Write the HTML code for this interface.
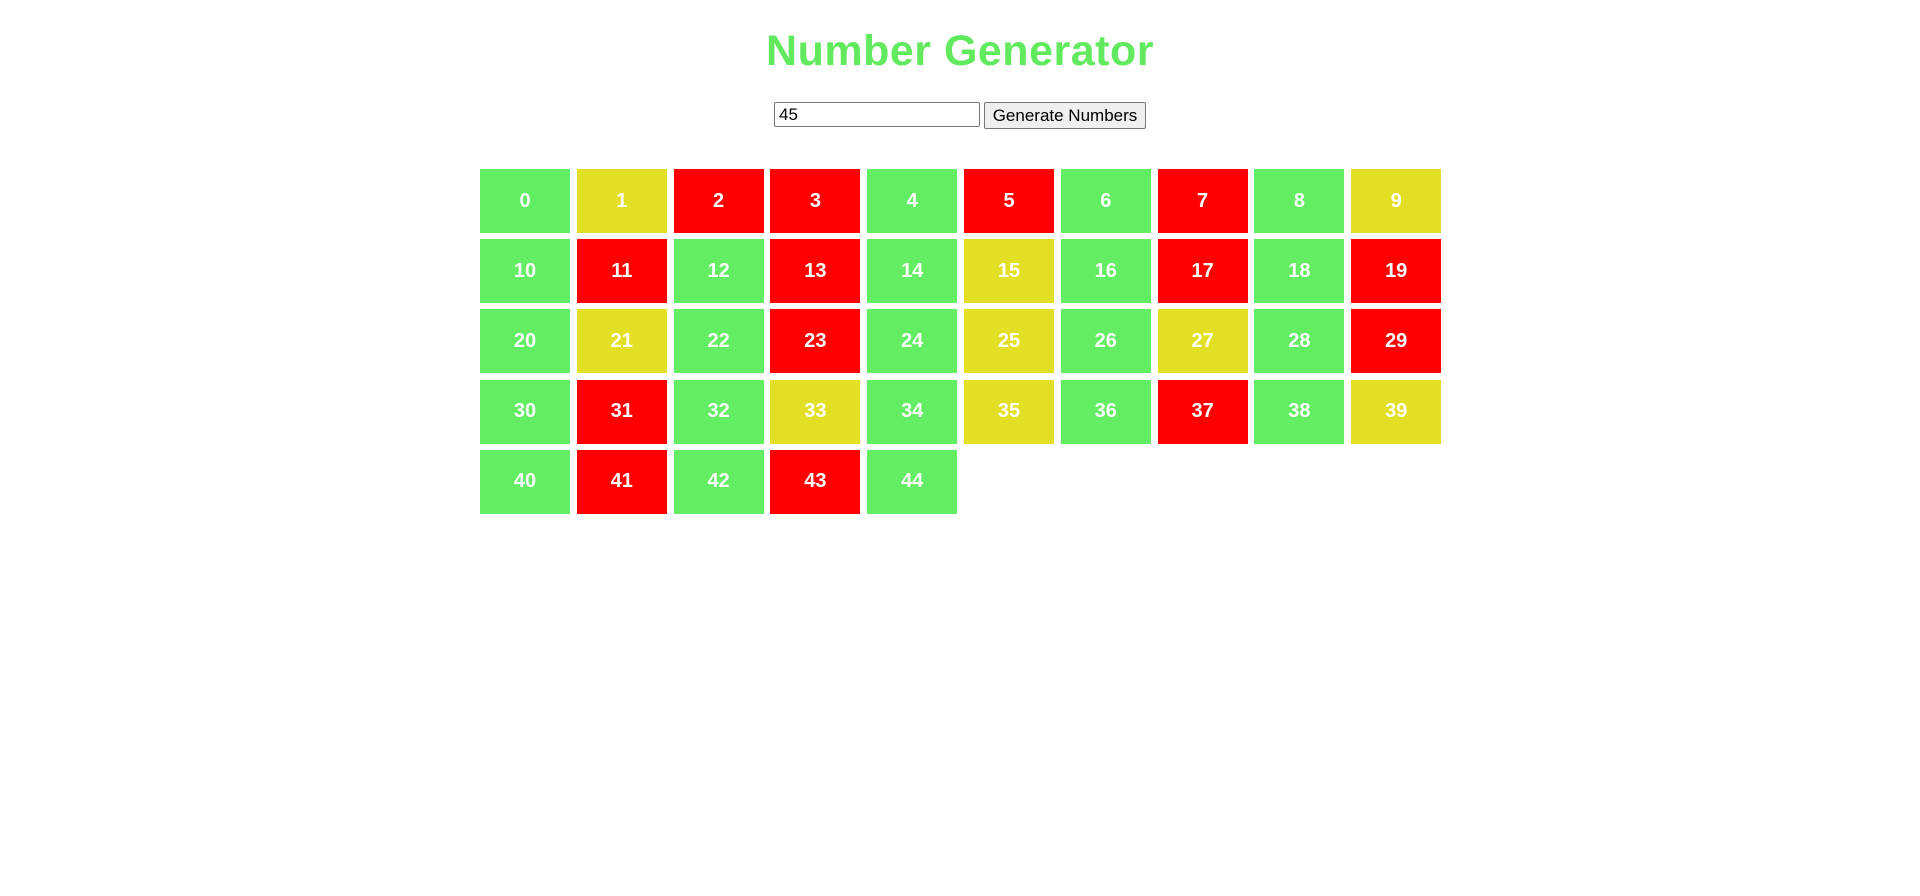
<!DOCTYPE html>
<html><head><meta charset="utf-8"><style>
html,body{margin:0;padding:0;background:#fff;width:1920px;height:896px;overflow:hidden}
h1{position:absolute;left:0;width:1920px;top:27px;margin:0;text-align:center;font:bold 43px "Liberation Sans",sans-serif;color:#62ea5e;letter-spacing:0.5px}
#num{position:absolute;left:774px;top:102px;width:196px;height:23px;border:1px solid #767676;border-radius:2px;padding:0 4px;font:17px "Liberation Sans",sans-serif;box-sizing:content-box}
#gen{position:absolute;left:984px;top:102px;width:162px;height:27px;border:1px solid #767676;border-radius:2px;background:#efefef;font:17px "Liberation Sans",sans-serif;padding:0}
#grid{position:absolute;left:480px;top:169px;width:970px}
.cell{position:absolute;width:90px;height:64px;color:#fff;font:bold 20px "Liberation Sans",sans-serif;display:flex;align-items:center;justify-content:center}
</style></head><body>
<h1>Number Generator</h1>
<input id="num" value="45">
<button id="gen">Generate Numbers</button>
<div id="grid"></div>
<script>
const count = 45;
const columns = 10;
function isPrime(n){if(n<2)return false;for(let i=2;i*i<=n;i++)if(n%i===0)return false;return true;}
function render(){
  const g=document.getElementById('grid');g.innerHTML='';
  const n=parseInt(document.getElementById('num').value)||count;
  for(let i=0;i<n;i++){
    const d=document.createElement('div');
    d.className='cell';
    
    
    d.style.left=(i%columns)*96.8+'px';
    d.style.top=Math.floor(i/columns)*70.2+'px';
    d.style.background= isPrime(i) ? '#ff0000' : (i%2===0 ? '#62ed62' : '#e3df24');
    d.textContent=i;
    g.appendChild(d);
  }
}
document.getElementById('gen').onclick=render;
render();
</script>
</body></html>
